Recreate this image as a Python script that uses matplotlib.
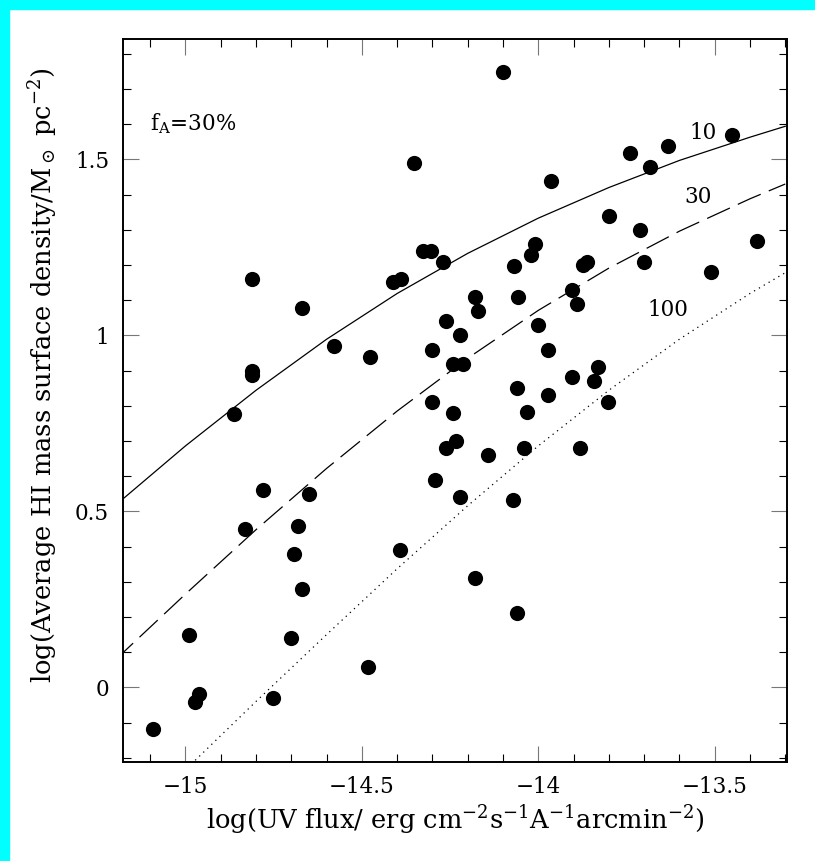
import matplotlib
matplotlib.use("Agg")
import matplotlib.pyplot as plt
from matplotlib.patches import Rectangle
from matplotlib.ticker import MultipleLocator, FuncFormatter

plt.rcParams["font.family"] = ["DejaVu Serif"]
plt.rcParams["mathtext.fontset"] = "dejavuserif"

# galaxy measurements: log UV flux, log HI surface density
uv_flux = [
    -14.831, -14.680, -14.691, -14.670, -14.991, -14.701, -14.392, -14.482,
    -14.962, -14.972, -14.751, -15.091,
    -14.810, -14.671, -14.580, -14.477, -14.810, -14.810, -14.861, -14.781, -14.650,
    -13.740, -13.632, -13.682, -13.450, -13.800, -13.711, -13.701, -13.381, -13.511,
    -14.100, -14.352, -13.964, -14.326, -14.303, -14.270, -14.412, -14.389,
    -14.179, -14.171, -14.261, -14.222, -14.301, -14.213, -14.242, -14.301,
    -14.242, -14.233, -14.261, -14.292, -14.222, -14.142, -14.179, -14.069,
    -14.057, -14.021, -14.009, -14.001, -13.973, -14.060, -14.032, -14.040,
    -13.973, -14.072, -14.060, -13.905, -13.891, -13.873, -13.862, -13.905,
    -13.882, -13.831, -13.843, -13.803,
]
hi_density = [
    0.449, 0.459, 0.379, 0.279, 0.149, 0.139, 0.390, 0.059,
    -0.020, -0.041, -0.031, -0.119,
    1.159, 1.078, 0.969, 0.939, 0.899, 0.888, 0.778, 0.561, 0.548,
    1.519, 1.539, 1.479, 1.569, 1.339, 1.299, 1.208, 1.269, 1.179,
    1.748, 1.489, 1.438, 1.239, 1.239, 1.208, 1.152, 1.161,
    1.109, 1.069, 1.041, 1.001, 0.958, 0.918, 0.918, 0.810,
    0.779, 0.700, 0.680, 0.589, 0.541, 0.660, 0.311, 1.197,
    1.109, 1.228, 1.259, 1.029, 0.958, 0.850, 0.782, 0.680,
    0.830, 0.532, 0.211, 1.129, 1.089, 1.200, 1.209, 0.882,
    0.680, 0.910, 0.870, 0.810,
]

# model curves for n = 10, 30, 100
curve_x = [-15.2, -15.0, -14.8, -14.6, -14.4, -14.2, -14.0, -13.8, -13.6, -13.4, -13.3]
curve_n10 = [0.516, 0.686, 0.844, 0.989, 1.119, 1.233, 1.333, 1.420, 1.497, 1.563, 1.594]
curve_n30 = [0.077, 0.265, 0.448, 0.622, 0.785, 0.935, 1.071, 1.191, 1.296, 1.388, 1.430]
curve_n100 = [-0.431, -0.234, -0.040, 0.150, 0.337, 0.516, 0.686, 0.844, 0.989, 1.119, 1.178]

fig = plt.figure(figsize=(8.15, 8.61), dpi=100)
fig.patches.append(Rectangle((0, 0), 9 / 815, 1, transform=fig.transFigure,
                             color="#00ffff", zorder=0))
fig.patches.append(Rectangle((0, 1 - 9 / 861), 1, 9 / 861, transform=fig.transFigure,
                             color="#00ffff", zorder=0))

ax = fig.add_axes([123 / 815, 1 - 762 / 861, 664 / 815, 723 / 861])

ax.plot(curve_x, curve_n10, color="black", lw=0.9)
ax.plot(curve_x, curve_n30, color="black", lw=0.9, dashes=(20, 7))
ax.plot(curve_x, curve_n100, color="black", lw=0.9, dashes=(1, 3.5))
ax.scatter(uv_flux, hi_density, s=120, color="black", zorder=3, linewidths=0)

ax.text(-13.533, 1.575, "10", fontsize=15.5, ha="center", va="center")
ax.text(-13.548, 1.393, "30", fontsize=15.5, ha="center", va="center")
ax.text(-13.633, 1.072, "100", fontsize=15.5, ha="center", va="center")
ax.text(-15.10, 1.60, r"f$_{\mathrm{A}}$=30%", fontsize=15.5, ha="left", va="center")

ax.set_xlim(-15.177, -13.295)
ax.set_ylim(-0.212, 1.842)

ax.xaxis.set_major_locator(MultipleLocator(0.5))
ax.xaxis.set_minor_locator(MultipleLocator(0.1))
ax.yaxis.set_major_locator(MultipleLocator(0.5))
ax.yaxis.set_minor_locator(MultipleLocator(0.1))
fmt = FuncFormatter(lambda v, p: ("%g" % v).replace("-", "\u2212"))
ax.xaxis.set_major_formatter(fmt)
ax.yaxis.set_major_formatter(fmt)

ax.tick_params(which="both", direction="in", top=True, right=True, labelsize=15.5)
ax.tick_params(which="major", length=11.5, width=0.8, color="#777777", pad=10)
ax.tick_params(which="minor", length=5.8, width=0.8, color="black")
for sp in ax.spines.values():
    sp.set_linewidth(1.4)

ax.set_xlabel(r"log(UV flux/ erg cm$^{-2}$s$^{-1}$A$^{-1}$arcmin$^{-2}$)", fontsize=18.5)
ax.set_ylabel(r"log(Average HI mass surface density/M$_\odot$ pc$^{-2}$)", fontsize=18.5)
ax.yaxis.set_label_coords(-0.095, 0.535)

fig.savefig("out.png", dpi=100)
